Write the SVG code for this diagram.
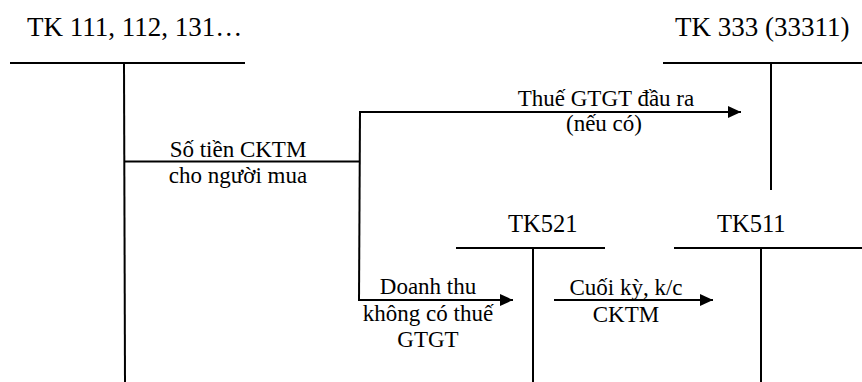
<svg xmlns="http://www.w3.org/2000/svg" width="862" height="382" viewBox="0 0 862 382">
<style>
text{font-family:"Liberation Serif","Times New Roman",Times,serif;fill:#000}
.t1{font-size:27px}
.t2{font-size:24.5px}
.lb{font-size:23px;text-anchor:middle}
line{stroke:#000;stroke-width:2;fill:none}
</style>
<defs>
<marker id="ah" markerWidth="14" markerHeight="12" refX="13" refY="6" orient="auto" markerUnits="userSpaceOnUse">
<path d="M0,0 L13,6 L0,12 Z" fill="#000"/>
</marker>
</defs>
<rect width="862" height="382" fill="#fff"/>
<g id="tk111">
<text class="t1" x="27" y="36" font-family="Liberation Serif, serif">TK 111, 112, 131…</text>
<line x1="10" y1="63" x2="245" y2="63"/>
<line x1="124" y1="63" x2="125" y2="382"/>
</g>
<g id="tk333">
<text class="t1" x="675" y="36">TK 333 (33311)</text>
<line x1="663" y1="63" x2="862" y2="63"/>
<line x1="771" y1="63" x2="771" y2="190"/>
</g>
<g id="tk521">
<text class="t2" x="508" y="232">TK521</text>
<line x1="456" y1="248" x2="605" y2="248"/>
<line x1="533" y1="248" x2="533" y2="382"/>
</g>
<g id="tk511">
<text class="t2" x="717" y="232">TK511</text>
<line x1="674" y1="248" x2="862" y2="248"/>
<line x1="761" y1="248" x2="761" y2="382"/>
</g>
<g id="connectors">
<line x1="124" y1="161.5" x2="360" y2="161.5"/>
<line x1="360" y1="111" x2="359" y2="301"/>
<line x1="359" y1="112" x2="741" y2="112" marker-end="url(#ah)"/>
<line x1="358" y1="300" x2="513" y2="300" marker-end="url(#ah)"/>
<line x1="554" y1="300" x2="713" y2="300" marker-end="url(#ah)"/>
<text class="lb" x="238" y="157">Số tiền CKTM</text>
<text class="lb" x="238" y="183">cho người mua</text>
<text class="lb" x="606" y="106">Thuế GTGT đầu ra</text>
<text class="lb" x="604" y="131">(nếu có)</text>
<text class="lb" x="428" y="294">Doanh thu</text>
<text class="lb" x="428" y="321">không có thuế</text>
<text class="lb" x="428" y="347">GTGT</text>
<text class="lb" x="626" y="295">Cuối kỳ, k/c</text>
<text class="lb" x="626" y="322">CKTM</text>
</g>
</svg>
